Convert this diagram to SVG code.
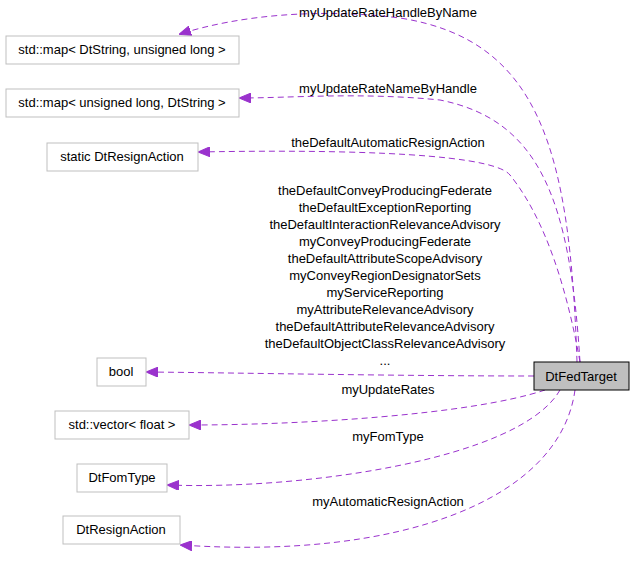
<svg xmlns="http://www.w3.org/2000/svg" width="635" height="565" viewBox="0 0 635 565">
<style>
text{font-family:"Liberation Sans",Arial,sans-serif;font-size:13px;fill:#000}
.n rect{fill:#fff;stroke:#bfbfbf}
.e path{fill:none;stroke:#9a32cd;stroke-dasharray:6,4}
.l{text-anchor:middle}
</style>
<defs><marker id="a" markerWidth="12" markerHeight="10" refX="11" refY="5" orient="auto" markerUnits="userSpaceOnUse"><path d="M0,0 L12,5 L0,10z" fill="#9a32cd" stroke="#9a32cd"/></marker></defs>
<rect width="635" height="565" fill="#fff"/>
<g class="e">
<path d="M577,362 C570,150 540,40 400,18 C320,8 240,15 180,34" marker-end="url(#a)"/>
<path d="M580,362 C570,200 540,120 440,100 C360,92 290,98 240,98" marker-end="url(#a)"/>
<path d="M580,362 C560,250 530,200 510,175 C490,150 300,150 199,152" marker-end="url(#a)"/>
<path d="M534,376 C400,376 250,373 147,372" marker-end="url(#a)"/>
<path d="M545,390 C470,415 300,425 190,425" marker-end="url(#a)"/>
<path d="M560,390 C520,460 300,490 168,485" marker-end="url(#a)"/>
<path d="M575,390 C560,500 400,560 181,545" marker-end="url(#a)"/>
</g>
<g class="l">
<text x="388" y="17">myUpdateRateHandleByName</text>
<text x="388" y="93">myUpdateRateNameByHandle</text>
<text x="388" y="147">theDefaultAutomaticResignAction</text>
<text x="385" y="195">theDefaultConveyProducingFederate</text>
<text x="385" y="212">theDefaultExceptionReporting</text>
<text x="385" y="229">theDefaultInteractionRelevanceAdvisory</text>
<text x="385" y="246">myConveyProducingFederate</text>
<text x="385" y="263">theDefaultAttributeScopeAdvisory</text>
<text x="385" y="280">myConveyRegionDesignatorSets</text>
<text x="385" y="297">myServiceReporting</text>
<text x="385" y="314">myAttributeRelevanceAdvisory</text>
<text x="385" y="331">theDefaultAttributeRelevanceAdvisory</text>
<text x="385" y="348">theDefaultObjectClassRelevanceAdvisory</text>
<text x="385" y="365">...</text>
<text x="388" y="394">myUpdateRates</text>
<text x="388" y="441">myFomType</text>
<text x="388" y="506">myAutomaticResignAction</text>
</g>
<g class="n" id="n1"><rect x="6" y="36" width="233" height="28"/><text x="122" y="54" class="l">std::map&lt; DtString, unsigned long &gt;</text></g>
<g class="n" id="n2"><rect x="6" y="89" width="233" height="28"/><text x="122" y="107" class="l">std::map&lt; unsigned long, DtString &gt;</text></g>
<g class="n" id="n3"><rect x="47" y="143" width="151" height="28"/><text x="122" y="161" class="l">static DtResignAction</text></g>
<g class="n" id="n4"><rect x="97" y="358" width="49" height="28"/><text x="121" y="376" class="l">bool</text></g>
<g class="n" id="n5"><rect x="55" y="411" width="134" height="28"/><text x="122" y="429" class="l">std::vector&lt; float &gt;</text></g>
<g class="n" id="n6"><rect x="77" y="464" width="90" height="28"/><text x="122" y="482" class="l">DtFomType</text></g>
<g class="n" id="n7"><rect x="63" y="516" width="117" height="28"/><text x="121" y="534" class="l">DtResignAction</text></g>
<g id="main"><rect x="534" y="362" width="95" height="28" fill="#bfbfbf" stroke="#000"/><text x="581" y="381" class="l">DtFedTarget</text></g>
</svg>
